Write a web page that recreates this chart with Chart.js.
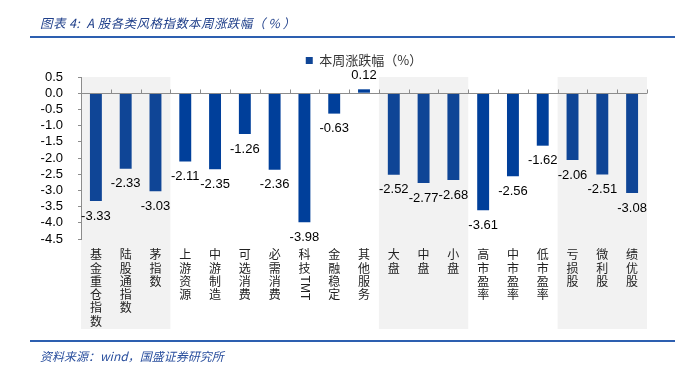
<!DOCTYPE html>
<html><head><meta charset="utf-8">
<script src="https://cdn.jsdelivr.net/npm/chart.js@4/dist/chart.umd.min.js"></script>
<style>
html,body{margin:0;padding:0;background:#fff;}
#wrap{position:relative;width:676px;height:365px;overflow:hidden;background:#fff;}
#c{position:absolute;left:0;top:0;}
.title{position:absolute;left:40px;top:14px;font:italic 12.5px "Noto Sans CJK SC";color:#1f3f8a;white-space:pre;line-height:18px;letter-spacing:0.4px;}
.title .p{letter-spacing:3px;}
.rule{position:absolute;left:30px;width:645px;height:2px;background:#2d5fb0;}
.src{position:absolute;left:40px;top:347px;font:italic 12px "Noto Sans CJK SC";color:#2a4f9e;white-space:pre;line-height:18px;}
</style></head>
<body>
<div id="wrap">
<canvas id="c" width="676" height="365"></canvas>
<div class="title">图表 4:  A 股各类风格指数本周涨跌幅<span class="p">（%）</span></div>
<div class="rule" style="top:36px"></div>
<div class="rule" style="top:340px"></div>
<div class="src">资料来源：wind，国盛证券研究所</div>
</div>
<script>
const categories = ['基金重仓指数','陆股通指数','茅指数','上游资源','中游制造','可选消费','必需消费','科技TMT','金融稳定','其他服务','大盘','中盘','小盘','高市盈率','中市盈率','低市盈率','亏损股','微利股','绩优股'];
const weeklyChange = [-3.33,-2.33,-3.03,-2.11,-2.35,-1.26,-2.36,-3.98,-0.63,0.12,-2.52,-2.77,-2.68,-3.61,-2.56,-1.62,-2.06,-2.51,-3.08];
const seriesName = '本周涨跌幅（%）';
const shadedGroups = [[0,2],[10,12],[16,18]];
const yTicks = {min:-4.5, max:0.5, step:0.5};

const inBand = i => shadedGroups.some(g => i >= g[0] && i <= g[1]);
const latinRun = s => { const m = s.match(/[A-Za-z]+/); return m ? m[0] : null; };
const AXIS = '#8c8c8c';

const bandPlugin = {
  id:'bands',
  beforeDraw(chart){
    const {ctx, chartArea, scales:{x}} = chart;
    const w = x.getPixelForValue(1) - x.getPixelForValue(0);
    ctx.save();
    ctx.fillStyle = '#f2f2f2';
    shadedGroups.forEach(g => {
      const l = x.getPixelForValue(g[0]) - w/2, r = x.getPixelForValue(g[1]) + w/2;
      ctx.fillRect(l, chartArea.top, r - l, x.bottom - chartArea.top);
    });
    ctx.restore();
  },
  afterDatasetsDraw(chart){
    const {ctx, chartArea, scales:{x,y}} = chart;
    const w = x.getPixelForValue(1) - x.getPixelForValue(0);
    const y0 = Math.round(y.getPixelForValue(0)) + 0.5;
    ctx.save();
    ctx.strokeStyle = AXIS; ctx.lineWidth = 1;
    ctx.beginPath();
    ctx.moveTo(chartArea.left, y0); ctx.lineTo(chartArea.right, y0);
    for (let i = 0; i < categories.length; i++) {
      const px = Math.round(x.getPixelForValue(i) + w/2) + 0.5;
      ctx.moveTo(px, y0); ctx.lineTo(px, y0 - 4);
    }
    ctx.stroke();
    ctx.fillStyle = '#000';
    ctx.font = '13px "Liberation Sans"';
    ctx.textAlign = 'center'; ctx.textBaseline = 'middle';
    const meta = chart.getDatasetMeta(0);
    meta.data.forEach((bar, i) => {
      const v = weeklyChange[i];
      const ty = v < 0 ? bar.y + 15 : bar.y - 13.5;
      ctx.fillText(v.toFixed(2), bar.x, ty);
    });
    ctx.fillStyle = '#222';
    ctx.font = '12px "Liberation Sans"';
    categories.forEach((c, i) => {
      const run = latinRun(c);
      if (!run) return;
      const nChars = c.replace(run, '').length;
      const lh = 13.3;
      const top = x.top + 9 + nChars * lh;
      const tw = ctx.measureText(run).width;
      ctx.save();
      ctx.translate(x.getPixelForValue(i), top + tw/2 + 1);
      ctx.rotate(Math.PI/2);
      ctx.textAlign = 'center'; ctx.textBaseline = 'middle';
      ctx.fillText(run, 0, 0);
      ctx.restore();
    });
    ctx.restore();
  }
};

new Chart(document.getElementById('c'), {
  type:'bar',
  data:{
    labels: categories,
    datasets:[{
      label: seriesName,
      data: weeklyChange,
      backgroundColor: ctx => inBand(ctx.dataIndex) ? '#0f4596' : '#003f9a',
      barPercentage:0.4,
      categoryPercentage:1.0
    }]
  },
  options:{
    responsive:false,
    animation:false,
    events:[],
    layout:{padding:{top:44,left:0,right:29,bottom:36}},
    plugins:{
      legend:{
        display:true, position:'top', fullSize:false,
        labels:{boxWidth:7, boxHeight:7, padding:10, color:'#333',
          font:{family:'"Noto Sans CJK SC"', size:13}}
      },
      tooltip:{enabled:false}
    },
    scales:{
      x:{
        grid:{display:false, drawTicks:false},
        border:{display:false},
        ticks:{
          autoSkip:false, maxRotation:0, minRotation:0, padding:9, color:'#222',
          font:{family:'"Noto Sans CJK SC"', size:12, lineHeight:'13.3px'},
          callback:(v, i) => { const c = categories[i]; const run = latinRun(c); return (run ? c.replace(run,'') : c).split(''); }
        },
        afterFit: s => { s.height = 90; }
      },
      y:{
        min:yTicks.min, max:yTicks.max,
        grid:{display:true, drawOnChartArea:false, drawTicks:true, tickLength:3, color:AXIS},
        border:{display:true, color:AXIS},
        ticks:{stepSize:yTicks.step, autoSkip:false, padding:15, color:'#000',
          font:{family:'"Liberation Sans"', size:13},
          callback:v => Number(v).toFixed(1)},
        afterFit: s => { s.width = 81; }
      }
    }
  },
  plugins:[bandPlugin]
});
</script>
</body></html>
